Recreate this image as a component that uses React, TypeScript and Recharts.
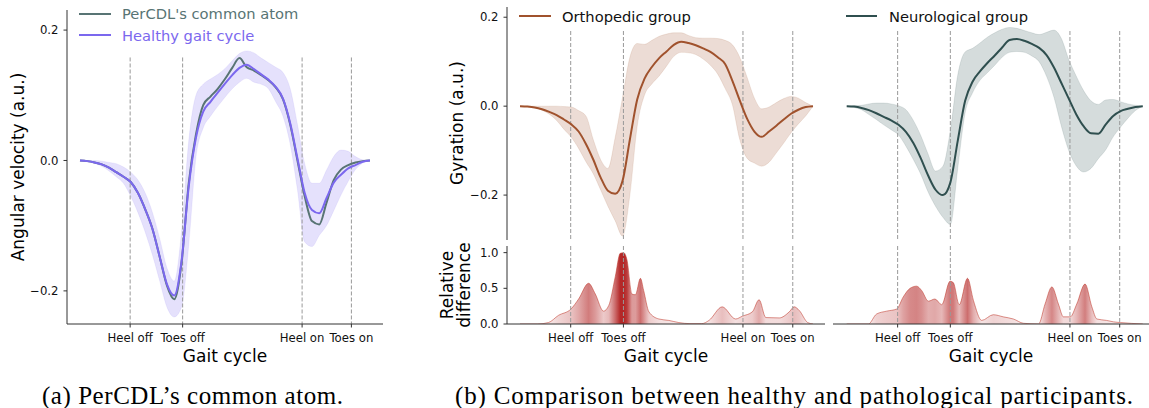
import { ComposedChart, Area, Line, XAxis, YAxis, ReferenceLine } from 'recharts';

// gait cycle sampling (% of cycle)
const cycle = [
  0, 2.5, 5, 7.5, 10, 12.5, 15, 17.5, 20, 22.5, 25, 27.5, 30, 32.5, 35, 37.5, 40, 42.5, 45, 47.5, 50,
  52.5, 55, 57.5, 60, 62.5, 65, 67.5, 70, 72.5, 75, 77.5, 80, 82.5, 85, 87.5, 90, 92.5, 95, 97.5, 100,
];

const eventLabels = ['Heel off', 'Toes off', 'Heel on', 'Toes on'];
const eventsA = [17.3, 35.4, 76.6, 93.6];
const eventsOrtho = [17.3, 35.3, 76.1, 93.1];
const eventsNeuro = [17.2, 35.0, 75.4, 92.2];

// (a) angular velocity
const commonAtom = [
  0, -0.001, -0.003, -0.006, -0.011, -0.018, -0.025, -0.033, -0.05, -0.075, -0.105, -0.148, -0.192, -0.213,
  -0.158, -0.035, 0.04, 0.085, 0.098, 0.11, 0.125, 0.142, 0.157, 0.143, 0.138, 0.131, 0.123, 0.112, 0.094,
  0.055, 0.0, -0.055, -0.093, -0.098, -0.065, -0.03, -0.014, -0.007, -0.003, -0.001, 0,
];
const healthyMean = [
  0, -0.001, -0.003, -0.006, -0.011, -0.018, -0.025, -0.033, -0.05, -0.075, -0.105, -0.148, -0.19, -0.207,
  -0.155, -0.04, 0.035, 0.075, 0.09, 0.104, 0.118, 0.131, 0.142, 0.147, 0.14, 0.132, 0.124, 0.113, 0.095,
  0.057, 0.003, -0.05, -0.076, -0.081, -0.058, -0.034, -0.022, -0.012, -0.007, -0.002, 0,
];
const healthyHi = [
  0, 0, 0, -0.001, -0.003, -0.005, -0.01, -0.018, -0.03, -0.05, -0.08, -0.12, -0.165, -0.185, -0.11, 0.03,
  0.1, 0.117, 0.125, 0.132, 0.141, 0.153, 0.164, 0.168, 0.165, 0.157, 0.15, 0.143, 0.135, 0.11, 0.055,
  -0.005, -0.035, -0.035, -0.015, 0.006, 0.016, 0.014, 0.006, 0.001, 0,
];
const healthyLo = [
  0, -0.002, -0.004, -0.009, -0.016, -0.025, -0.035, -0.055, -0.08, -0.11, -0.145, -0.185, -0.225, -0.24,
  -0.225, -0.13, 0.005, 0.05, 0.068, 0.083, 0.097, 0.11, 0.12, 0.126, 0.12, 0.117, 0.11, 0.09, 0.068, 0.025,
  -0.045, -0.125, -0.132, -0.115, -0.1, -0.077, -0.053, -0.032, -0.014, -0.004, 0,
];

// (b) gyration, orthopedic group
const orthoMean = [
  0, -0.001, -0.003, -0.007, -0.013, -0.02, -0.03, -0.041, -0.057, -0.085, -0.12, -0.16, -0.19, -0.197,
  -0.168, -0.075, 0.015, 0.062, 0.088, 0.108, 0.123, 0.138, 0.145, 0.142, 0.137, 0.13, 0.122, 0.11, 0.095,
  0.057, 0.013, -0.028, -0.057, -0.069, -0.057, -0.044, -0.03, -0.017, -0.008, -0.002, 0,
];
const orthoHi = [
  0, 0, 0, 0, 0, 0, -0.001, -0.002, -0.01, -0.022, -0.075, -0.12, -0.14, -0.07, 0.02, 0.11, 0.141, 0.139,
  0.148, 0.157, 0.162, 0.165, 0.165, 0.159, 0.154, 0.153, 0.153, 0.152, 0.148, 0.138, 0.11, 0.065, 0.018,
  -0.006, -0.002, 0.008, 0.017, 0.022, 0.018, 0.008, 0,
];
const orthoLo = [
  0, -0.001, -0.003, -0.009, -0.018, -0.032, -0.052, -0.07, -0.095, -0.125, -0.152, -0.188, -0.225, -0.258,
  -0.292, -0.2, -0.045, 0.025, 0.05, 0.068, 0.09, 0.112, 0.121, 0.12, 0.116, 0.106, 0.092, 0.072, 0.04,
  0.003, -0.075, -0.117, -0.128, -0.135, -0.126, -0.105, -0.083, -0.06, -0.04, -0.022, 0,
];

// (b) gyration, neurological group
const neuroMean = [
  0, -0.001, -0.004, -0.009, -0.016, -0.024, -0.032, -0.042, -0.058, -0.083, -0.117, -0.156, -0.188, -0.2,
  -0.172, -0.078, 0.012, 0.055, 0.078, 0.097, 0.114, 0.132, 0.149, 0.151, 0.147, 0.14, 0.131, 0.115, 0.087,
  0.052, 0.017, -0.018, -0.045, -0.061, -0.062, -0.041, -0.022, -0.011, -0.006, -0.002, 0,
];
const neuroHi = [
  0, 0.001, 0.002, 0.005, 0.007, 0.007, 0.005, 0.001, -0.008, -0.032, -0.066, -0.108, -0.146, -0.135,
  -0.055, 0.07, 0.122, 0.13, 0.142, 0.155, 0.165, 0.173, 0.177, 0.175, 0.17, 0.165, 0.161, 0.166, 0.171,
  0.152, 0.105, 0.068, 0.035, 0.012, 0.004, 0.014, 0.015, 0.01, 0.005, 0.002, 0,
];
const neuroLo = [
  0, -0.003, -0.008, -0.019, -0.03, -0.042, -0.053, -0.065, -0.09, -0.12, -0.153, -0.193, -0.225, -0.25,
  -0.266, -0.14, -0.015, 0.03, 0.058, 0.075, 0.092, 0.11, 0.121, 0.123, 0.121, 0.113, 0.1, 0.067, 0.02,
  -0.045, -0.1, -0.134, -0.148, -0.14, -0.118, -0.098, -0.069, -0.047, -0.027, -0.01, 0,
];

// relative difference to the healthy cycle
const orthoDiffAt = [
  0, 6, 9.7, 13.1, 17.4, 20, 23.4, 25.7, 28.5, 30.3, 32.5, 34.2, 35.4, 36.5, 38.2, 39.4, 41.1, 42.2, 44,
  47.4, 50.8, 54.2, 58, 62, 64.5, 69, 73.6, 75.9, 79.3, 81.6, 83.9, 88.5, 91.9, 93.6, 95.3, 98.2, 100,
];
const orthoDiff = [
  0, 0, 0.02, 0.12, 0.21, 0.35, 0.57, 0.42, 0.18, 0.26, 0.66, 0.99, 1.0, 0.9, 0.42, 0.41, 0.64, 0.47, 0.17,
  0.07, 0.05, 0.02, 0.005, 0.005, 0.05, 0.24, 0.07, 0.11, 0.17, 0.34, 0.09, 0.085, 0.17, 0.24, 0.19, 0.02, 0,
];
const neuroDiffAt = [
  0, 7.3, 10.1, 13.5, 16.9, 19.1, 21.4, 23.6, 25.3, 27.6, 29.8, 32.1, 34.9, 36, 38, 40.8, 42.8, 45.6, 49.5,
  52.9, 56.3, 59.7, 64.8, 67, 69.3, 71.5, 73.2, 75.5, 77.7, 80.5, 82.8, 84.5, 87.8, 90.1, 92.5, 100,
];
const neuroDiff = [
  0, 0, 0.14, 0.18, 0.21, 0.38, 0.5, 0.53, 0.47, 0.32, 0.35, 0.27, 0.6, 0.58, 0.27, 0.64, 0.33, 0.05, 0.13,
  0.1, 0.07, 0.01, 0, 0.28, 0.52, 0.28, 0.1, 0.1, 0.28, 0.56, 0.24, 0.07, 0.05, 0.03, 0.02, 0,
];

const FONT = 'DejaVu Sans, sans-serif';
const AXIS = '#333';
const DASH = '#999';
const PURPLE = '#7b68ee';
const ATOM = '#587474';
const SIENNA = '#a0522d';
const SLATE = '#2f4f4f';
const RED = '#b22222';

const tickStyle = { fontSize: 11.7, fill: '#111', fontFamily: FONT };
const fmt = (v: number) => (v < 0 ? '\u2212' + Math.abs(v).toFixed(1) : v.toFixed(1));

const atomRows = cycle.map((x, i) => ({
  x,
  common: commonAtom[i],
  healthy: healthyMean[i],
  band: [healthyLo[i], healthyHi[i]],
}));
const orthoRows = cycle.map((x, i) => ({ x, mean: orthoMean[i], band: [orthoLo[i], orthoHi[i]] }));
const neuroRows = cycle.map((x, i) => ({ x, mean: neuroMean[i], band: [neuroLo[i], neuroHi[i]] }));

function eventAxis(events: number[], domain: number[]) {
  return (
    <XAxis
      type="number"
      dataKey="x"
      domain={domain}
      allowDataOverflow
      ticks={events}
      interval={0}
      tickFormatter={(v: number) => eventLabels[events.indexOf(v)]}
      tick={tickStyle}
      tickSize={3.5}
      tickMargin={6}
      height={30}
      axisLine={{ stroke: AXIS }}
      tickLine={{ stroke: AXIS }}
    />
  );
}

function dashes(events: number[], top: number, bottom: number) {
  return events.map((e) => (
    <ReferenceLine
      key={e}
      segment={[
        { x: e, y: top },
        { x: e, y: bottom },
      ]}
      stroke={DASH}
      strokeWidth={1}
      strokeDasharray="4 2"
    />
  ));
}

function GroupChart({
  rows,
  color,
  events,
  domain,
  width,
  margin,
  showY,
}: {
  rows: any[];
  color: string;
  events: number[];
  domain: number[];
  width: number;
  margin: any;
  showY: boolean;
}) {
  return (
    <ComposedChart width={width} height={240} data={rows} margin={margin}>
      <XAxis type="number" dataKey="x" domain={domain} allowDataOverflow hide />
      <YAxis
        type="number"
        domain={[-0.301, 0.223]}
        allowDataOverflow
        ticks={[-0.2, 0, 0.2]}
        interval={0}
        tickFormatter={fmt}
        tick={tickStyle}
        tickSize={3.5}
        tickMargin={5}
        width={77}
        axisLine={{ stroke: AXIS }}
        tickLine={{ stroke: AXIS }}
        hide={!showY}
      />
      {dashes(events, 0.169, -0.301)}
      <Area
        dataKey="band"
        type="monotone"
        fill={color}
        fillOpacity={0.2}
        stroke={color}
        strokeOpacity={0.12}
        isAnimationActive={false}
      />
      <Line dataKey="mean" type="monotone" stroke={color} strokeWidth={2} dot={false} isAnimationActive={false} />
    </ComposedChart>
  );
}

function DiffChart({
  at,
  diff,
  id,
  events,
  domain,
  width,
  margin,
  showY,
}: {
  at: number[];
  diff: number[];
  id: string;
  events: number[];
  domain: number[];
  width: number;
  margin: any;
  showY: boolean;
}) {
  const rows = at.map((x, i) => ({ x, v: diff[i] }));
  return (
    <ComposedChart width={width} height={130} data={rows} margin={margin}>
      <defs>
        <linearGradient id={id} x1="0" y1="0" x2="1" y2="0">
          {at.map((x, i) => (
            <stop key={i} offset={x / 100} stopColor={RED} stopOpacity={0.08 + 0.9 * diff[i]} />
          ))}
        </linearGradient>
      </defs>
      {eventAxis(events, domain)}
      <YAxis
        type="number"
        domain={[0, 1.093]}
        allowDataOverflow
        ticks={[0, 0.5, 1]}
        interval={0}
        tickFormatter={fmt}
        tick={tickStyle}
        tickSize={3.5}
        tickMargin={5}
        width={77}
        axisLine={{ stroke: AXIS }}
        tickLine={{ stroke: AXIS }}
        hide={!showY}
      />
      {dashes(events, 1.093, 0)}
      <Area
        dataKey="v"
        type="monotone"
        fill={`url(#${id})`}
        fillOpacity={1}
        stroke="#c0392b"
        strokeOpacity={0.55}
        strokeWidth={1}
        isAnimationActive={false}
      />
    </ComposedChart>
  );
}

export default function App() {
  return (
    <div
      style={{
        position: 'absolute',
        left: 0,
        top: 0,
        width: 1149,
        height: 408,
        overflow: 'hidden',
        background: '#fff',
        fontFamily: FONT,
      }}
    >
      <div style={{ position: 'absolute', left: 0, top: 0 }}>
        <ComposedChart width={395} height={370} data={atomRows} margin={{ top: 10, right: 12, bottom: 16, left: 0 }}>
          {eventAxis(eventsA, [-4.48, 104.5])}
          <YAxis
            type="number"
            domain={[-0.2508, 0.2308]}
            allowDataOverflow
            ticks={[-0.2, 0, 0.2]}
            interval={0}
            tickFormatter={fmt}
            tick={tickStyle}
            tickSize={3.5}
            tickMargin={5}
            width={67}
            axisLine={{ stroke: AXIS }}
            tickLine={{ stroke: AXIS }}
          />
          {dashes(eventsA, 0.158, -0.2508)}
          <Area
            dataKey="band"
            type="monotone"
            fill={PURPLE}
            fillOpacity={0.2}
            stroke={PURPLE}
            strokeOpacity={0.1}
            isAnimationActive={false}
          />
          <Line dataKey="common" type="monotone" stroke={ATOM} strokeWidth={2} dot={false} isAnimationActive={false} />
          <Line dataKey="healthy" type="monotone" stroke={PURPLE} strokeWidth={2} dot={false} isAnimationActive={false} />
        </ComposedChart>
      </div>

      <div style={{ position: 'absolute', left: 430, top: 0 }}>
        <GroupChart
          rows={orthoRows}
          color={SIENNA}
          events={eventsOrtho}
          domain={[-4.44, 104.1]}
          width={400}
          margin={{ top: 7, right: 5, bottom: 0, left: 0 }}
          showY
        />
      </div>
      <div style={{ position: 'absolute', left: 830, top: 0 }}>
        <GroupChart
          rows={neuroRows}
          color={SLATE}
          events={eventsNeuro}
          domain={[-4.63, 102.1]}
          width={319}
          margin={{ top: 7, right: 0, bottom: 0, left: 3 }}
          showY={false}
        />
      </div>
      <div style={{ position: 'absolute', left: 430, top: 240 }}>
        <DiffChart
          at={orthoDiffAt}
          diff={orthoDiff}
          id="orthoDiffFill"
          events={eventsOrtho}
          domain={[-4.44, 104.1]}
          width={400}
          margin={{ top: 6, right: 5, bottom: 16, left: 0 }}
          showY
        />
      </div>
      <div style={{ position: 'absolute', left: 830, top: 240 }}>
        <DiffChart
          at={neuroDiffAt}
          diff={neuroDiff}
          id="neuroDiffFill"
          events={eventsNeuro}
          domain={[-4.63, 102.1]}
          width={319}
          margin={{ top: 6, right: 0, bottom: 16, left: 3 }}
          showY={false}
        />
      </div>

      <svg
        width={1149}
        height={408}
        style={{ position: 'absolute', left: 0, top: 0, pointerEvents: 'none' }}
        fontFamily={FONT}
      >
        {/* legends */}
        <line x1={79} x2={111} y1={14} y2={14} stroke={ATOM} strokeWidth={2} />
        <text x={122} y={19.4} fontSize={14.7} fill={ATOM}>
          PerCDL's common atom
        </text>
        <line x1={79} x2={111} y1={35} y2={35} stroke={PURPLE} strokeWidth={2} />
        <text x={122} y={40.6} fontSize={14.7} fill={PURPLE}>
          Healthy gait cycle
        </text>
        <line x1={519} x2={551} y1={16} y2={16} stroke={SIENNA} strokeWidth={2} />
        <text x={562} y={21.6} fontSize={14.7} fill="#111">
          Orthopedic group
        </text>
        <line x1={846} x2={877} y1={16} y2={16} stroke={SLATE} strokeWidth={2} />
        <text x={889} y={21.6} fontSize={14.7} fill="#111">
          Neurological group
        </text>

        {/* axis titles */}
        <text x={23.5} y={167} fontSize={17} textAnchor="middle" transform="rotate(-90 23.5 167)">
          Angular velocity (a.u.)
        </text>
        <text x={463} y={123} fontSize={17} textAnchor="middle" transform="rotate(-90 463 123)">
          Gyration (a.u.)
        </text>
        <text x={452.5} y={285} fontSize={17} textAnchor="middle" transform="rotate(-90 452.5 285)">
          Relative
        </text>
        <text x={469.5} y={285} fontSize={17} textAnchor="middle" transform="rotate(-90 469.5 285)">
          difference
        </text>
        <text x={225} y={361.7} fontSize={17} textAnchor="middle">
          Gait cycle
        </text>
        <text x={666} y={361.7} fontSize={17} textAnchor="middle">
          Gait cycle
        </text>
        <text x={991} y={361.7} fontSize={17} textAnchor="middle">
          Gait cycle
        </text>

        {/* captions */}
        <text
          x={42}
          y={404}
          fontSize={25}
          fontFamily="Liberation Serif, serif"
          textLength={301}
          lengthAdjust="spacing"
        >
          (a) PerCDL’s common atom.
        </text>
        <text
          x={455}
          y={404}
          fontSize={25}
          fontFamily="Liberation Serif, serif"
          textLength={678}
          lengthAdjust="spacing"
        >
          (b) Comparison between healthy and pathological participants.
        </text>
      </svg>
    </div>
  );
}
